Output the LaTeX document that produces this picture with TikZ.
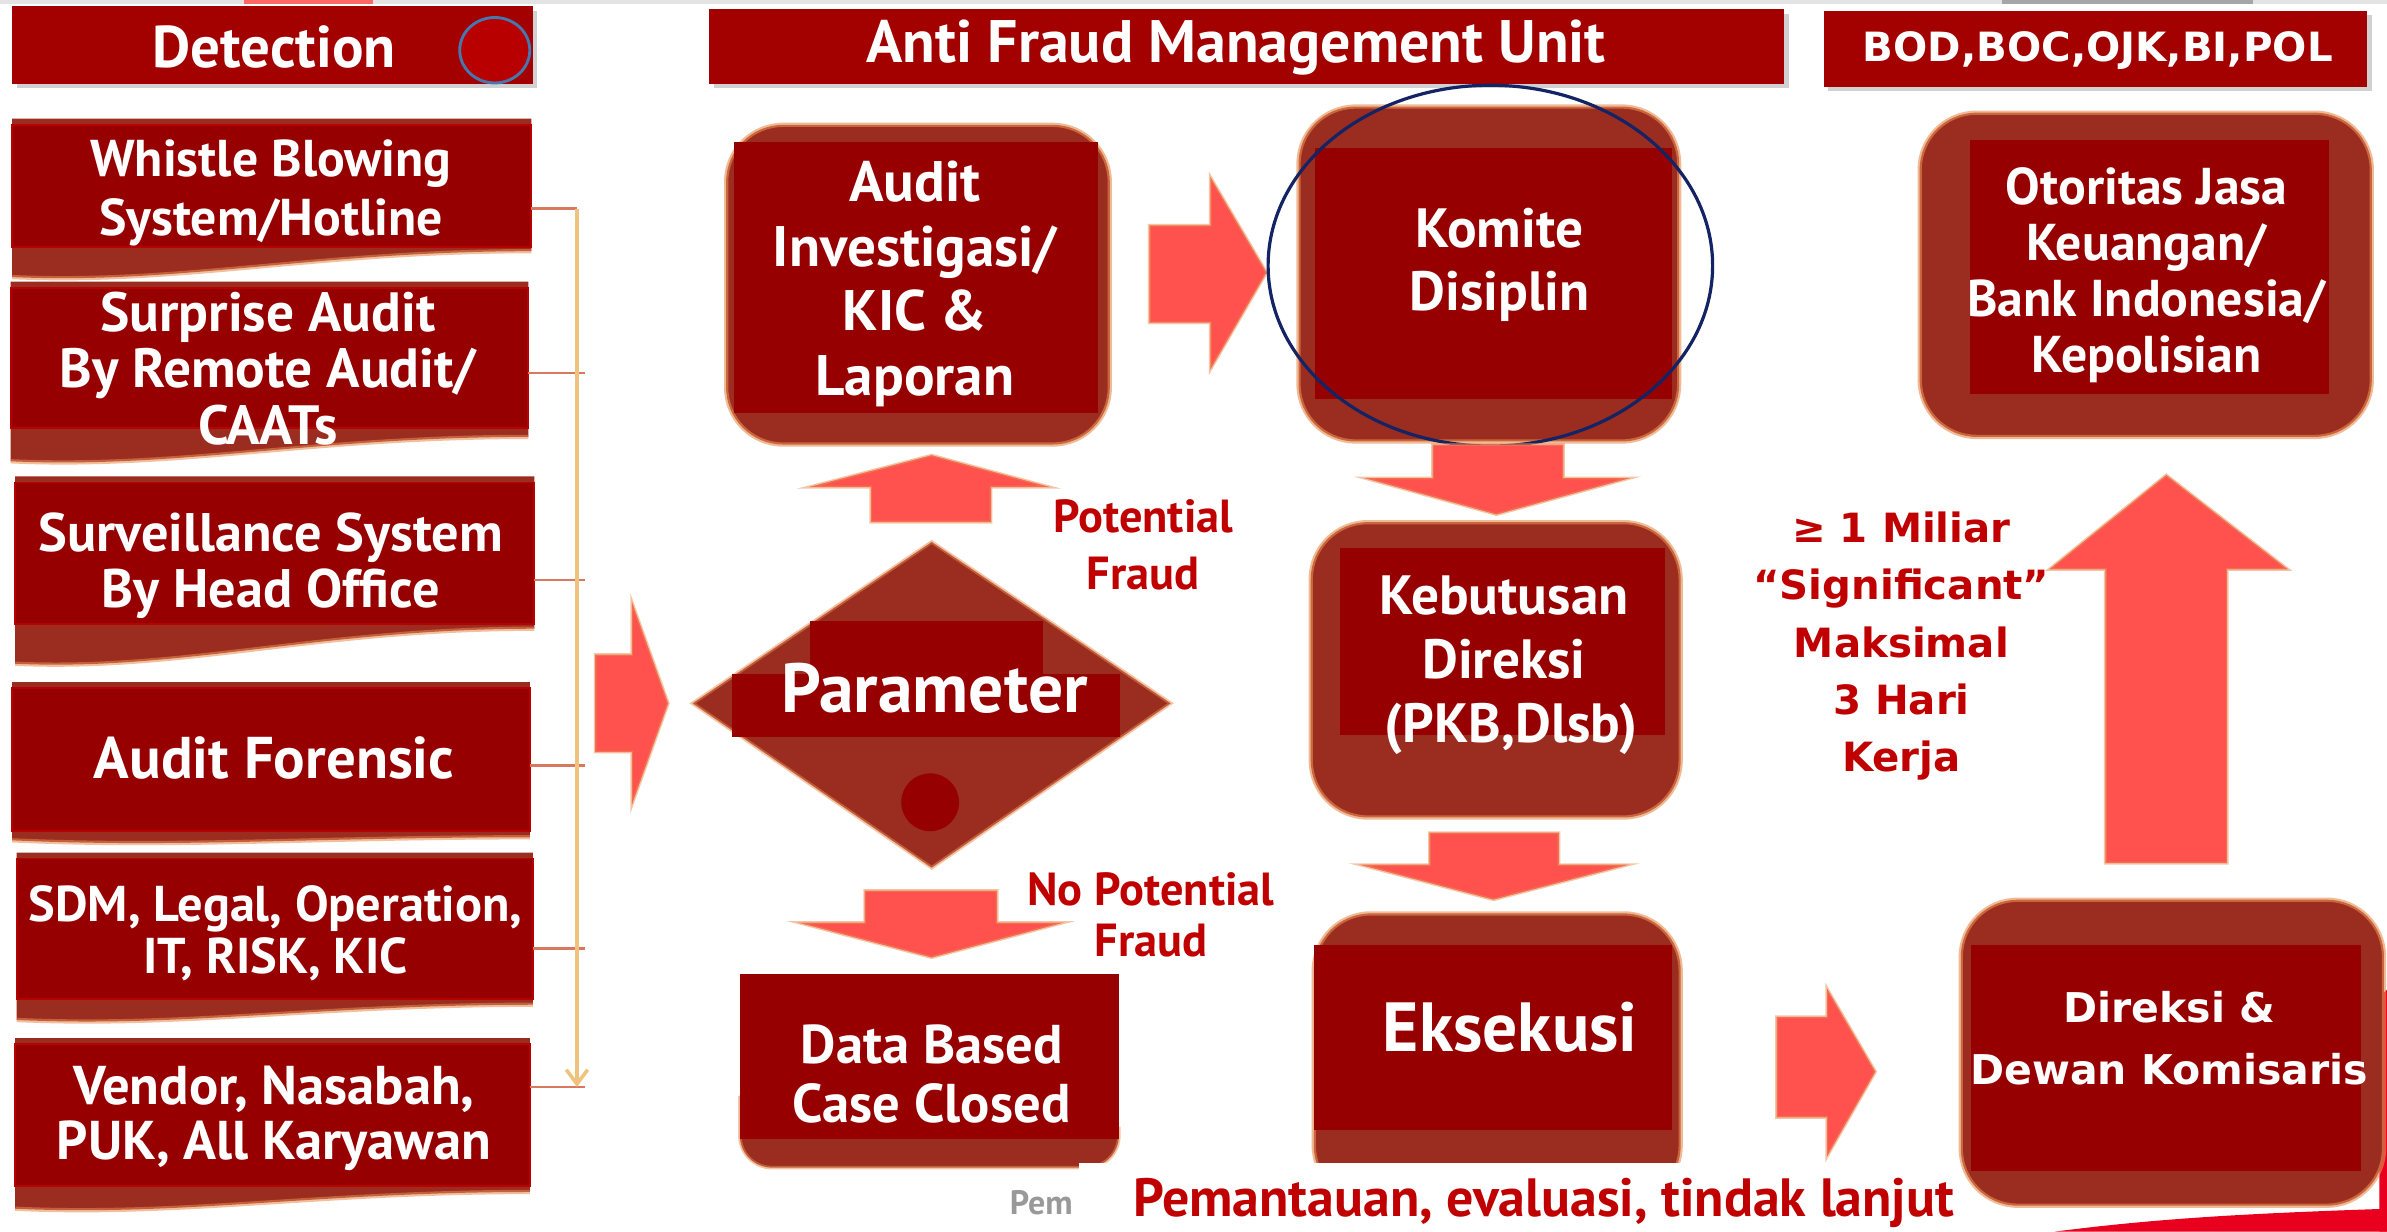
\documentclass[tikz,border=0pt]{standalone}
\usepackage{fontspec}
\setmainfont{PT Sans}
\newfontfamily\wfont{DejaVu Sans}
\usetikzlibrary{arrows.meta}
\definecolor{dred}{RGB}{150,0,0}
\definecolor{barred}{RGB}{163,0,0}
\definecolor{brn}{RGB}{155,45,32}
\definecolor{arr}{RGB}{255,82,78}
\definecolor{lred}{RGB}{192,0,0}
\definecolor{glow}{RGB}{232,140,80}
\definecolor{navy}{RGB}{20,35,100}
\definecolor{cblue}{RGB}{70,120,175}
\definecolor{cred}{RGB}{185,0,0}
\definecolor{tanline}{RGB}{240,195,125}
\definecolor{branch}{RGB}{215,120,95}
\definecolor{bright}{RGB}{232,0,30}
\newcommand\lbox[6]{%
  \fill[brn] (#1,#2-4) -- (#1,#4+#5) .. controls (#1+110,#4+#5+5) and (#1+200,#4+#6) .. (#3,#4+#6) -- (#3,#2-4) -- cycle;
  \draw[glow,line width=1.2pt,opacity=.55] (#1,#4+#5) .. controls (#1+110,#4+#5+5) and (#1+200,#4+#6) .. (#3,#4+#6);
  \fill[dred,draw=cred,line width=.5pt] (#1,#2) rectangle (#3,#4);}
\newcommand\rbox[8]{%
  \fill[brn,draw=glow,draw opacity=.6,line width=1.2pt,rounded corners=16pt] (#1,#2) rectangle (#3,#4);
  \fill[dred] (#5,#6) rectangle (#7,#8);}
\begin{document}
\begin{tikzpicture}[x=0.15mm,y=-0.15mm,
  wt/.style={text=white,inner sep=0pt,align=center},
  rt/.style={text=lred,inner sep=0pt,align=center},
  fs/.style 2 args={font=\bfseries\fontsize{#1}{#2}\selectfont},
  wfs/.style 2 args={font=\wfont\bfseries\fontsize{#1}{#2}\selectfont},
  blk/.style={fill=arr,draw=glow,draw opacity=.5,line width=.8pt},
  conn/.style={draw=tanline,line width=1pt},
  brl/.style={draw=branch,line width=.7pt}]
\useasboundingbox (0,0) rectangle (1568,809);
\fill[white] (0,0) rectangle (1568,809);
% top strip
\fill[gray!22] (0,0) rectangle (1568,2.5);
\fill[red!60!white] (160,0) rectangle (245,2.5);
\fill[gray!70] (1315,0) rectangle (1480,2.5);
% title bars
\fill[black!18] (11,7) rectangle (353,58);
\fill[barred] (8,4) rectangle (350,55);
\node[wt,fs={16.5pt}{18pt}] (det) at (180,31) {Detection};
\coordinate (dot) at (325,33);
\fill[cred,draw=cblue,line width=.8pt] (dot) ellipse [x radius=23,y radius=21.5];
\fill[black!18] (469,9) rectangle (1175,58);
\fill[barred] (466,6) rectangle (1172,55);
\node[wt,fs={16.8pt}{18pt}] (afmu) at (812,31) {Anti Fraud Management Unit};
\fill[black!18] (1201,10) rectangle (1558,60);
\fill[barred] (1198,7) rectangle (1555,57);
\node[wt,wfs={11.3pt}{14pt}] (bod) at (1378,33) {BOD,BOC,OJK,BI,POL};
% left column
\lbox{8}{82}{349}{162}{20}{3}
\lbox{7}{189}{347}{281}{22}{6}
\lbox{10}{317}{351}{410}{26}{3}
\lbox{8}{452}{348}{546}{6}{4}
\lbox{11}{564}{350}{656}{14}{4}
\lbox{10}{686}{348}{779}{15}{4}
\node[wt,fs={14.5pt}{16.6pt}] (whistle) at (178,126.5) {Whistle Blowing\\System/Hotline};
\node[wt,fs={15.5pt}{15.8pt}] (surprise) at (176,242) {Surprise Audit\\By Remote Audit/\\CAATs};
\node[wt,fs={15.2pt}{15.8pt}] (surv) at (178,371.5) {Surveillance System\\By Head Office};
\node[wt,fs={16.5pt}{17pt}] (forensic) at (180,498) {Audit Forensic};
\node[wt,fs={14.1pt}{14.6pt}] (sdm) at (181,613) {SDM, Legal, Operation,\\IT, RISK, KIC};
\node[wt,fs={15.3pt}{15.4pt}] (vendor) at (180,734.5) {Vendor, Nasabah,\\PUK, All Karyawan};
% connector
\coordinate (b1) at (379,137);
\coordinate (b2) at (384,245);
\coordinate (b3) at (384,381);
\coordinate (b4) at (384,503);
\coordinate (b5) at (384,623);
\coordinate (b6) at (379,714);
\draw[brl] (349,137) -- (b1);
\draw[brl] (347,245) -- (b2);
\draw[brl] (351,381) -- (b3);
\draw[brl] (348,503) -- (b4);
\draw[brl] (350,623) -- (b5);
\draw[brl] (348,714) -- (384,714);
\draw[conn,-{Straight Barb[length=4pt,width=6pt]}] (b1) -- (b6);
% big arrow to diamond
\fill[blk] (391,430) -- (415,430) -- (415,395) -- (439,462) -- (415,529) -- (415,494) -- (391,494) -- cycle;
% diamond
\fill[brn,draw=glow,draw opacity=.5,line width=1pt] (455,462) -- (612,356) -- (769,462) -- (612,570) -- cycle;
\fill[dred] (532,408) rectangle (685,443);
\fill[dred] (481,443) rectangle (736,484);
\fill[dred] (611,527) circle [radius=19];
\node[wt,fs={19.5pt}{22pt}] (param) at (614,452) {Parameter};
% potential fraud arrow up
\fill[blk] (572,343) -- (572,320) -- (531,320) -- (612,299) -- (690,320) -- (651,320) -- (651,343) -- cycle;
\node[rt,fs={13pt}{16pt}] (pot) at (751,358) {Potential\\Fraud};
% no potential arrow down
\fill[blk] (568,585) -- (655,585) -- (655,606) -- (699,606) -- (612,629) -- (524,606) -- (568,606) -- cycle;
\node[rt,fs={13pt}{14.5pt}] (nopot) at (756,601) {No Potential\\Fraud};
% data based
\fill[brn,rounded corners=9pt] (486,700) rectangle (735,767);
\draw[glow,opacity=.5,line width=1pt,rounded corners=9pt] (486,720) -- (486,767) -- (735,767) -- (735,740);
\fill[dred] (486,640) rectangle (735,748);
\node[wt,fs={15.3pt}{16.6pt}] (data) at (612,705.5) {Data Based\\Case Closed};
% audit box
\rbox{477}{82}{729}{292}{482}{93}{721}{271}
\node[wt,fs={16pt}{18.2pt}] (audit) at (601,186.5) {Audit\\Investigasi/\\KIC \&\\Laporan};
% arrow right
\fill[blk] (755,148) -- (795,148) -- (795,116) -- (832,179) -- (795,243) -- (795,212) -- (755,212) -- cycle;
% komite
\rbox{853}{70}{1103}{290}{864}{97}{1098}{262}
\node[wt,fs={15.5pt}{17.6pt}] (komite) at (985,174) {Komite\\Disiplin};
\draw[navy,line width=.9pt] (979,174.5) ellipse [x radius=146,y radius=118.5];
% down arrows
\fill[blk] (941,292) -- (1027,292) -- (1027,314) -- (1071,314) -- (983,338) -- (896,314) -- (941,314) -- cycle;
\rbox{861}{343}{1104}{537}{880}{360}{1094}{483}
\node[wt,fs={15.5pt}{17.9pt}] (keb) at (988,437) {Kebutusan\\Direksi\\\ (PKB,Dlsb)};
\fill[blk] (939,547) -- (1024,547) -- (1024,568) -- (1070,568) -- (981,591) -- (893,568) -- (939,568) -- cycle;
\rbox{863}{600}{1104}{790}{863}{621}{1098}{742}
\node[wt,fs={19.5pt}{22pt}] (eks) at (992,675) {Eksekusi};
% bottom strip
\fill[white] (709,764) rectangle (1290,809);
\node[inner sep=0pt,text=gray!80,fs={9.5pt}{10pt}] (pem) at (684,790) {Pem};
\node[rt,fs={15.1pt}{15pt}] (pemantauan) at (1014,790) {Pemantauan, evaluasi, tindak lanjut};
% right column
\fill[bright] (1350,809) .. controls (1420,800) and (1480,797) .. (1568,794) -- (1568,809) -- cycle;
\fill[bright] (1563,655) -- (1568,650) -- (1568,809) -- (1563,809) -- cycle;
\rbox{1261}{74}{1558}{287}{1294}{92}{1530}{259}
\node[wt,fs={14.5pt}{15.7pt}] (ojk) at (1410,180.5) {Otoritas Jasa\\Keuangan/\\Bank Indonesia/\\Kepolisian};
\fill[blk] (1383,567) -- (1383,374) -- (1346,374) -- (1423,312) -- (1503,374) -- (1463,374) -- (1463,567) -- cycle;
\node[rt,wfs={11.3pt}{16pt}] (miliar) at (1249,424.4) {≥ 1 Miliar\\“Significant”\\Maksimal\\3 Hari\\Kerja};
\fill[blk] (1167,668) -- (1200,668) -- (1200,649) -- (1232,704) -- (1200,760) -- (1200,734) -- (1167,734) -- cycle;
\rbox{1288}{591}{1566}{792}{1295}{621}{1551}{769}
\node[wt,wfs={11.5pt}{17.4pt}] (dir) at (1425,682) {Direksi \&\\Dewan Komisaris};
\end{tikzpicture}
\end{document}
